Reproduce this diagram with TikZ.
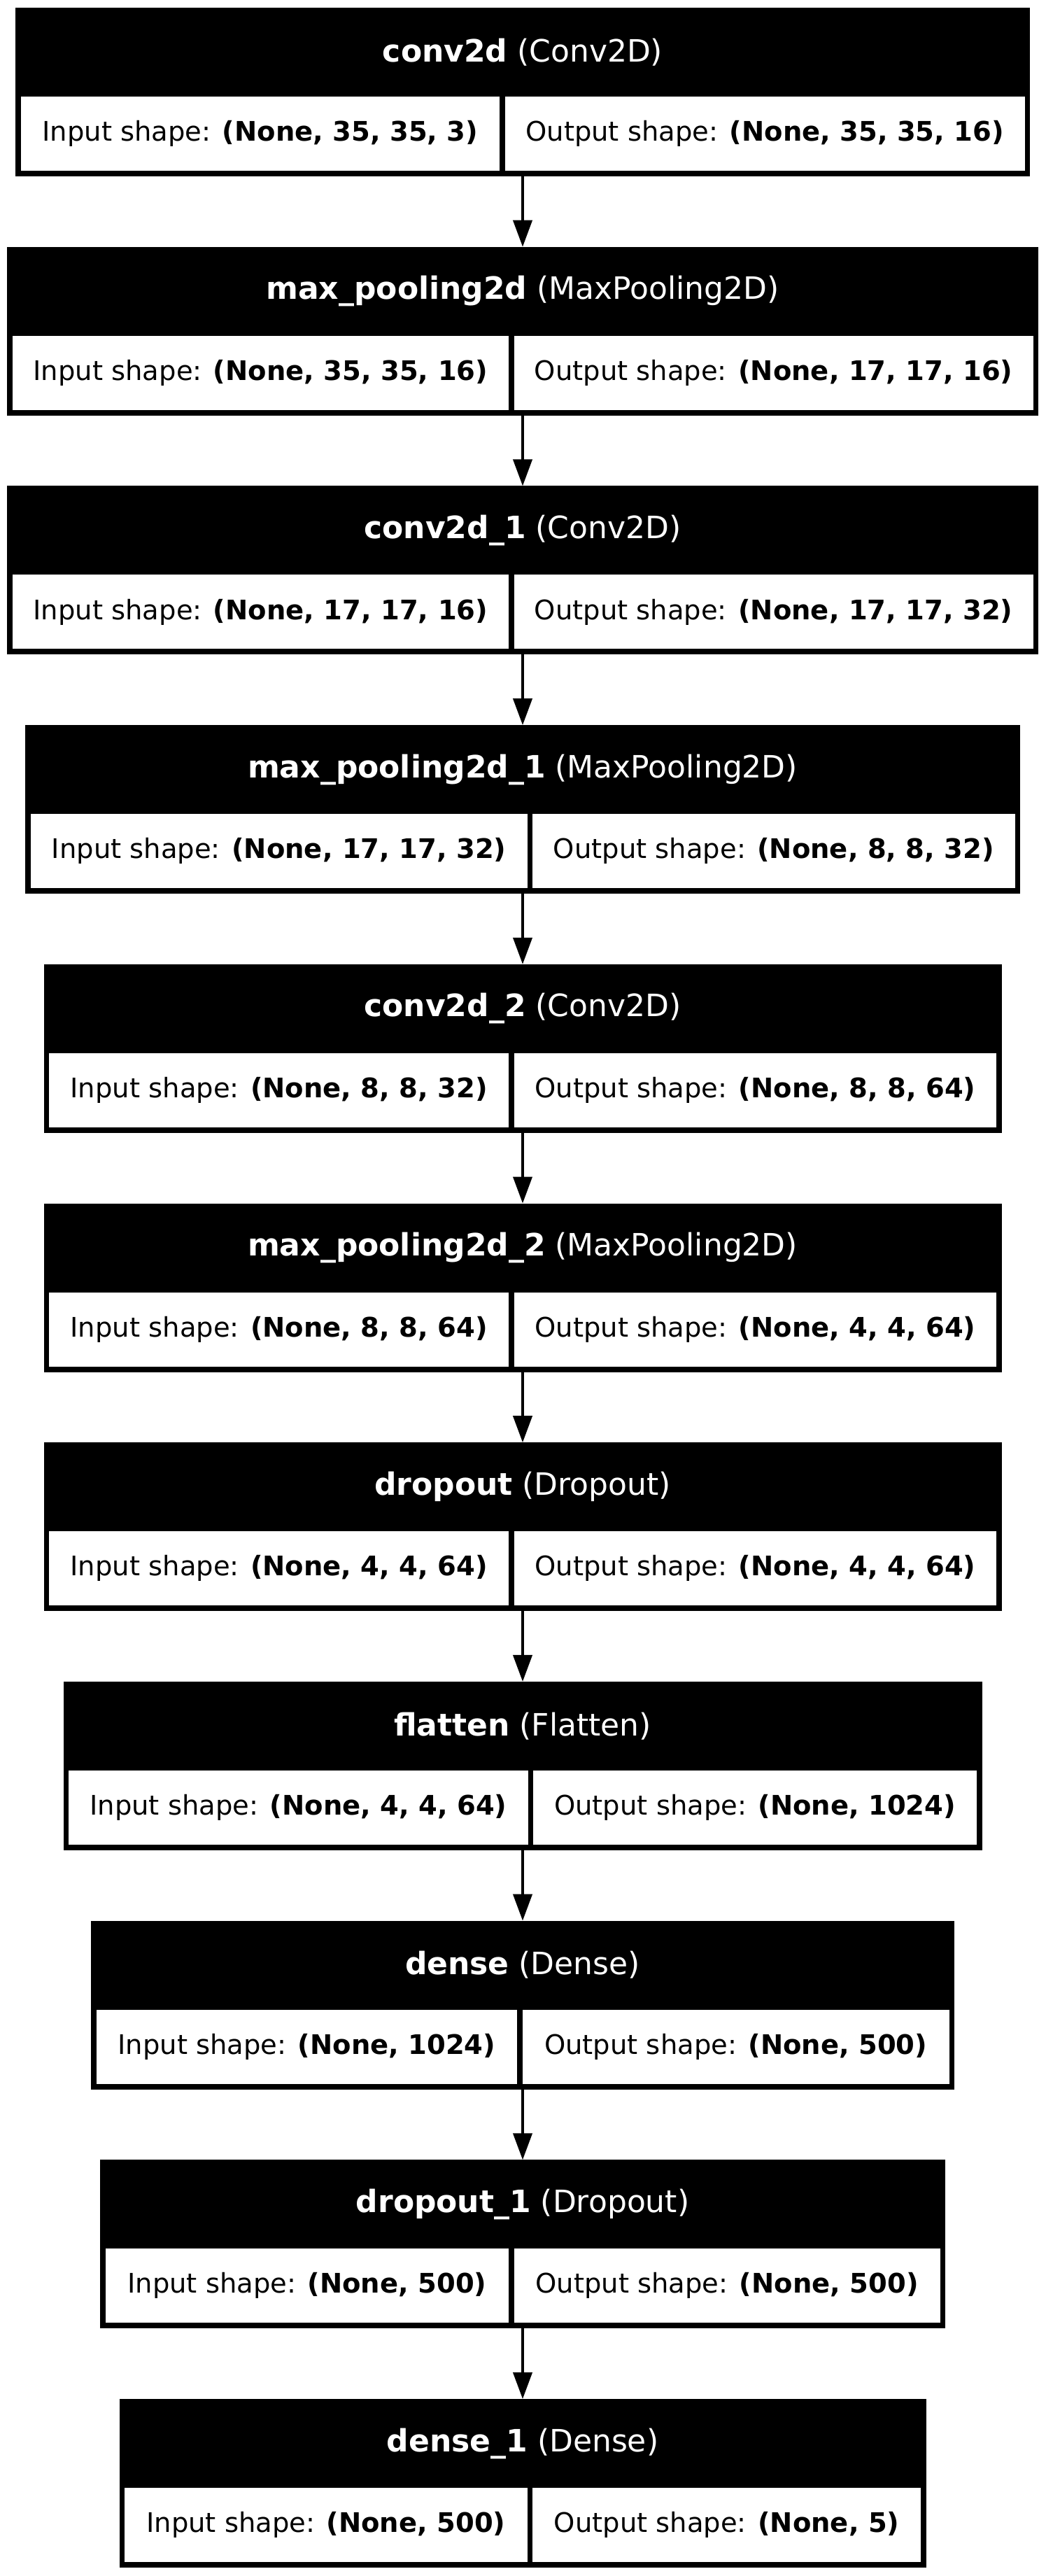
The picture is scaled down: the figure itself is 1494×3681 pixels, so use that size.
\documentclass[tikz,border=0pt]{standalone}
\usepackage{fontspec}
\setmainfont{DejaVu Sans}
\usetikzlibrary{arrows.meta}
\tikzset{
  layerbox/.style={fill=black, draw=none, inner sep=0pt, outer sep=0pt, minimum height=120.5pt},
  headtext/.style={text=white, inner sep=0pt, font=\fontsize{22pt}{26pt}\selectfont},
  cellbox/.style={fill=white, draw=none, inner sep=0pt, outer sep=0pt, minimum height=53pt, font=\fontsize{19.25pt}{23pt}\selectfont},
  arr/.style={line width=2pt, -{Triangle[length=19pt,width=13.5pt]}}
}
\newcommand\mklayer[7]{%
  \pgfmathsetmacro\ytop{11+341.7*#1}%
  \pgfmathsetmacro\xl{747-#2}%
  \pgfmathsetmacro\xr{747+#2}%
  \pgfmathsetmacro\ymid{\ytop+120.5}%
  \pgfmathsetmacro\yhead{\ytop+63.5}%
  \pgfmathsetmacro\ycell{\ytop+180}%
  \pgfmathsetmacro\liw{(#3-3.75-\xl-7.5)*0.5}%
  \pgfmathsetmacro\lix{(#3-3.75+\xl+7.5)/2}%
  \pgfmathsetmacro\riw{(\xr-7.5-#3-3.75)*0.5}%
  \pgfmathsetmacro\rix{(\xr-7.5+#3+3.75)/2}%
  \node[layerbox, minimum width={#2*1pt}] (L#1) at (747,\ymid) {};
  \node[headtext] (H#1) at (747,\yhead) {\textbf{#4} (#5)};
  \node[cellbox, minimum width={\liw pt}] (I#1) at (\lix,\ycell) {Input shape: \textbf{#6}};
  \node[cellbox, minimum width={\riw pt}] (O#1) at (\rix,\ycell) {Output shape: \textbf{#7}};
}
\begin{document}
\begin{tikzpicture}[x=0.5pt,y=-0.5pt]
\useasboundingbox (0,0) rectangle (1494,3681);
\fill[white] (0,0) rectangle (1494,3681);
\mklayer{0}{725}{718}{conv2d}{Conv2D}{(None, 35, 35, 3)}{(None, 35, 35, 16)}
\mklayer{1}{737}{731}{max\_pooling2d}{MaxPooling2D}{(None, 35, 35, 16)}{(None, 17, 17, 16)}
\mklayer{2}{737}{731}{conv2d\_1}{Conv2D}{(None, 17, 17, 16)}{(None, 17, 17, 32)}
\mklayer{3}{711}{757.5}{max\_pooling2d\_1}{MaxPooling2D}{(None, 17, 17, 32)}{(None, 8, 8, 32)}
\mklayer{4}{684.5}{731}{conv2d\_2}{Conv2D}{(None, 8, 8, 32)}{(None, 8, 8, 64)}
\mklayer{5}{684.5}{731}{max\_pooling2d\_2}{MaxPooling2D}{(None, 8, 8, 64)}{(None, 4, 4, 64)}
\mklayer{6}{684.5}{731}{dropout}{Dropout}{(None, 4, 4, 64)}{(None, 4, 4, 64)}
\mklayer{7}{656.5}{758.5}{flatten}{Flatten}{(None, 4, 4, 64)}{(None, 1024)}
\mklayer{8}{617}{743}{dense}{Dense}{(None, 1024)}{(None, 500)}
\mklayer{9}{604}{731}{dropout\_1}{Dropout}{(None, 500)}{(None, 500)}
\mklayer{10}{576.5}{757.5}{dense\_1}{Dense}{(None, 500)}{(None, 5)}
\foreach \a/\b in {0/1,1/2,2/3,3/4,4/5,5/6,6/7,7/8,8/9,9/10}
  \draw[arr] (L\a.south) -- (L\b.north);
\end{tikzpicture}
\end{document}
